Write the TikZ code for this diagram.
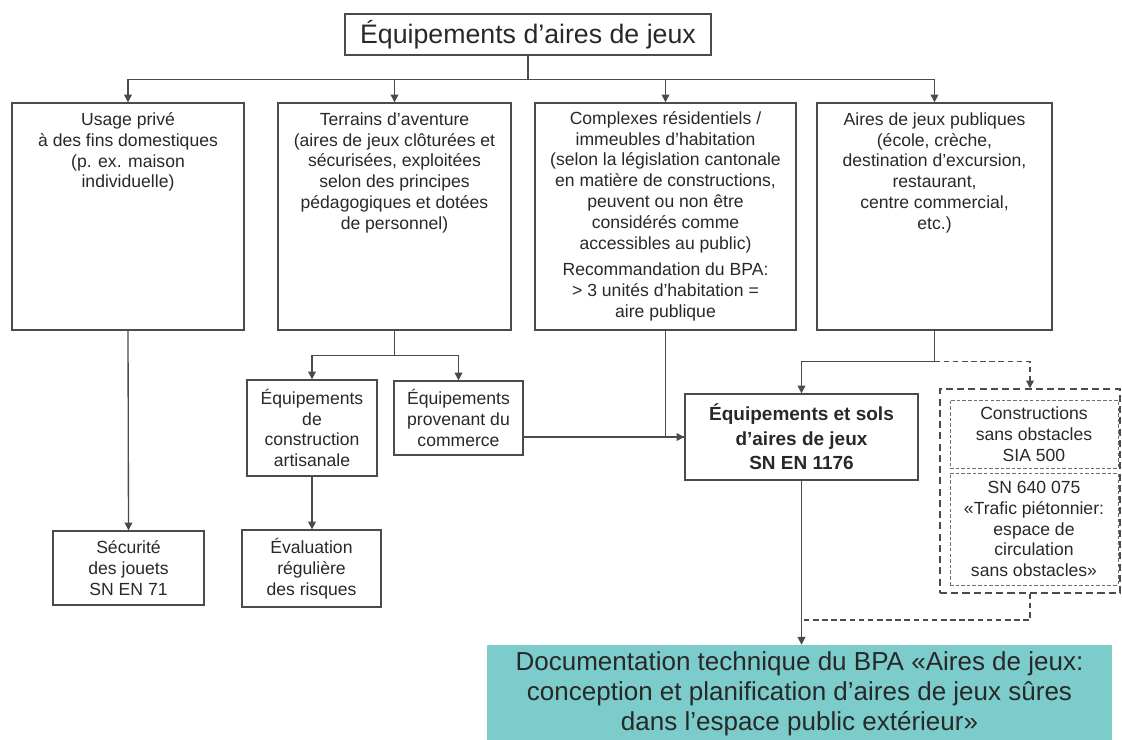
\documentclass[tikz,border=0pt]{standalone}
\usepackage{fontspec}
\setmainfont{Liberation Sans}
\usetikzlibrary{arrows.meta,positioning,calc}

\definecolor{linec}{RGB}{75,75,75}
\definecolor{textc}{RGB}{40,40,40}
\definecolor{tealbg}{RGB}{124,204,204}

\newcommand{\bodyfont}{\fontsize{12.5}{14.8}\selectfont}

\begin{document}
\begin{tikzpicture}[
    x=0.025cm, y=-0.025cm,
    >={Triangle[length=5.5pt,width=5.5pt]},
    box/.style={draw=linec,line width=0.95pt,inner sep=0pt,text=textc,
                align=center,font=\bodyfont},
    titlebox/.style={box,minimum width=9.15cm,minimum height=1.025cm,
                     font=\fontsize{19}{22}\selectfont},
    catbox/.style={box,minimum height=5.675cm},
    cattext/.style={inner sep=0pt,text=textc,align=center,font=\bodyfont},
    hubbox/.style={box,font=\fontsize{13.5}{17.5}\selectfont\bfseries},
    docbox/.style={fill=tealbg,draw=none,inner sep=0pt,text=textc,align=center,
                   minimum width=15.625cm,minimum height=2.45cm,
                   font=\fontsize{18.5}{21.5}\selectfont},
    normbox/.style={draw=linec!80,dash pattern=on 2.5pt off 1.5pt,line width=0.6pt,
                    inner sep=0pt,text=textc,align=center,font=\bodyfont,
                    minimum width=4.2cm},
    outerbox/.style={draw=linec,dash pattern=on 5pt off 3pt,line width=1pt,
                     minimum width=4.5cm,minimum height=5.1cm},
    plain/.style={draw=linec,line width=0.95pt},
    conn/.style={plain,->},
    dplain/.style={plain,dash pattern=on 4pt off 2.5pt},
    dconn/.style={dplain,->},
  ]

  \useasboundingbox (0,0) rectangle (1122,740);
  \clip (0,0) rectangle (1122,740);

  % --- root ---
  \node[titlebox] (top) at (528,34.5) {Équipements d’aires de jeux};

  % --- four categories (boxes, text hung from the top edge) ---
  \node[catbox,minimum width=5.8cm]   (usage)     at (128,216.5)   {};
  \node[catbox,minimum width=5.825cm] (terrains)  at (394.5,216.5) {};
  \node[catbox,minimum width=6.525cm] (complexes) at (665.5,216.5) {};
  \node[catbox,minimum width=5.875cm] (publiques) at (934.5,216.5) {};

  \node[cattext,below=2.5mm of usage.north] (usagetxt)
    {Usage privé\\à des fins domestiques\\(p. ex. maison\\individuelle)};
  \node[cattext,below=2.5mm of terrains.north] (terrainstxt)
    {Terrains d’aventure\\(aires de jeux clôturées et\\sécurisées, exploitées\\
     selon des principes\\pédagogiques et dotées\\de personnel)};
  \node[cattext,below=2.2mm of complexes.north] (complexestxt)
    {Complexes résidentiels /\\immeubles d’habitation\\(selon la législation cantonale\\
     en matière de constructions,\\peuvent ou non être\\considérés comme\\
     accessibles au public)\\[4pt]Recommandation du BPA:\\> 3 unités d’habitation =\\aire publique};
  \node[cattext,below=2.5mm of publiques.north] (publiquestxt)
    {Aires de jeux publiques\\(école, crèche,\\destination d’excursion,\\restaurant,\\
     centre commercial,\\etc.)};

  % --- second level ---
  \node[box,minimum width=3.25cm,minimum height=2.4cm] (artisanale) at (312,428)
    {Équipements\\de\\construction\\artisanale};
  \node[box,minimum width=3.225cm,minimum height=1.85cm] (commerce) at (458.5,418)
    {Équipements\\provenant du\\commerce};
  \node[hubbox,minimum width=5.825cm,minimum height=2.15cm] (sols) at (801.5,437)
    {Équipements et sols\\d’aires de jeux\\SN EN 1176};

  % --- barrier-free norms (dashed group) ---
  \node[outerbox] (sansobst) at (1030,491) {};
  \node[normbox,minimum height=1.7cm] (sia) at (1034,434)
    {Constructions\\sans obstacles\\SIA 500};
  \node[normbox,minimum height=2.8cm] (sn) at (1034,529)
    {SN 640 075\\«Trafic piétonnier:\\espace de\\circulation\\sans obstacles»};

  % --- bottom row ---
  \node[box,minimum width=3.775cm,minimum height=1.85cm] (jouets) at (128.5,568)
    {Sécurité\\des jouets\\SN EN 71};
  \node[box,minimum width=3.475cm,minimum height=1.925cm] (risques) at (311.5,568.5)
    {Évaluation\\régulière\\des risques};

  \node[docbox] (doc) at (799.5,694)
    {Documentation technique du BPA «Aires de jeux:\\
     conception et planification d’aires de jeux sûres\\
     dans l’espace public extérieur»};

  \coordinate (merge) at (801.5,620);

  % --- edges ---
  \foreach \b in {usage,terrains,complexes,publiques}
    \draw[conn] (top.south) -- ++(0,24) -| (\b.north);

  \draw[conn] (terrains.south) -- ++(0,25) -| (artisanale.north);
  \draw[conn] (terrains.south) -- ++(0,25) -| (commerce.north);
  \draw[conn] (usage.south) -- (jouets.north);
  \draw[conn] (artisanale.south) -- (artisanale.south |- risques.north);

  \draw[plain] (commerce.east |- sols.west) -- (sols.west);
  \draw[conn] (complexes.south) |- (sols.west);
  \draw[conn] (publiques.south) -- ++(0,31) -| (sols.north);
  \draw[dconn] (publiques.south) ++(0,31) -| (sansobst.north);

  \draw[conn] (sols.south) -- (sols.south |- doc.north);
  \draw[dplain] (sansobst.south) |- (merge);

\end{tikzpicture}
\end{document}
